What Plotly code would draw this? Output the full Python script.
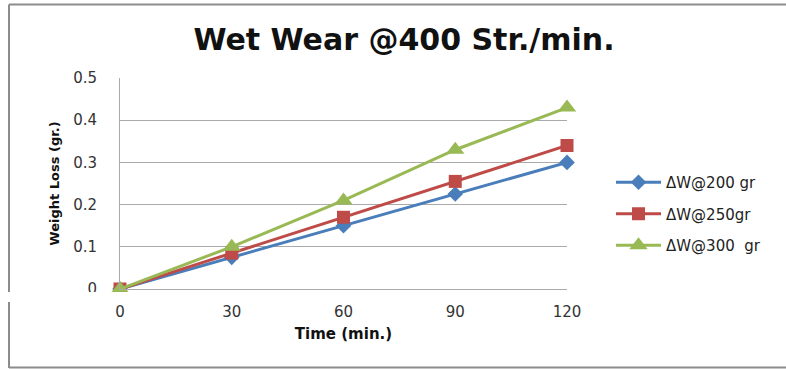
import plotly.graph_objects as go

# Wear test results: weight loss vs. time at 400 strokes/min
time_min = [0, 30, 60, 90, 120]
loss_200 = [0, 0.075, 0.15, 0.225, 0.30]
loss_250 = [0, 0.085, 0.17, 0.255, 0.34]
loss_300 = [0, 0.10, 0.21, 0.33, 0.43]

series_names = ["ΔW@200 gr", "ΔW@250gr", "ΔW@300  gr"]
y_ticks = [0, 0.1, 0.2, 0.3, 0.4, 0.5]
y_tick_text = ["0", "0.1", "0.2", "0.3", "0.4", "0.5"]

W, H = 786, 369
L, R, T, B = 120, 567, 78, 289  # plot area in pixels

def px(x):
    return (x - L) / (R - L)

def py(y):
    return (B - y) / (B - T)

FONT = "DejaVu Sans"
colors = ["#4A7EBB", "#BE4B48", "#98B954"]
symbols = ["diamond", "square", "triangle-up"]
sizes = [12, 13, 16]

fig = go.Figure()
for i, (name, vals) in enumerate(zip(series_names, [loss_200, loss_250, loss_300])):
    fig.add_trace(go.Scatter(
        x=time_min, y=vals, name=name, mode="lines+markers",
        line=dict(color=colors[i], width=3),
        marker=dict(symbol=symbols[i], size=sizes[i], color=colors[i]),
        cliponaxis=False, legendgroup=str(i),
    ))

grid = "#AAAAAA"
fig.update_layout(
    width=W, height=H,
    margin=dict(l=L, r=W - R, t=T, b=H - B, pad=0),
    paper_bgcolor="white", plot_bgcolor="white",
    font=dict(family=FONT, color="#222222"),
    title=dict(text="<b>Wet Wear @400 Str./min.</b>", x=px(404), xref="paper", xanchor="center",
               y=1 - 39 / H, yanchor="middle", font=dict(size=30, color="#111111", family=FONT)),
    showlegend=True,
    legend=dict(x=px(611), y=py(214), xanchor="left", yanchor="middle",
                font=dict(size=15, family=FONT, color="#222222"),
                tracegroupgap=9, itemwidth=45, bgcolor="rgba(0,0,0,0)"),
    xaxis=dict(range=[0, 120], tickvals=time_min, ticktext=[str(t) for t in time_min],
               showgrid=False, zeroline=False, showline=True, linecolor=grid, linewidth=1,
               ticks="", ticklabelstandoff=9,
               tickfont=dict(size=15, family=FONT, color="#333333"),
               title=dict(text="<b>Time (min.)</b>", standoff=8,
                          font=dict(size=15, family=FONT, color="#111111"))),
    yaxis=dict(range=[0, 0.5], tickvals=y_ticks, ticktext=y_tick_text,
               showgrid=True, gridcolor=grid, gridwidth=1, zeroline=False,
               showline=True, linecolor=grid, linewidth=1, ticks="",
               ticklabelstandoff=19,
               tickfont=dict(size=15, family=FONT, color="#333333"),
               title=dict(text="<b>Weight Loss (gr.)</b>", standoff=10,
                          font=dict(size=13, family=FONT, color="#111111"))),
)

# outer frame lines
frame = "#8C8C8C"
fig.add_shape(type="line", xref="paper", yref="paper", x0=px(9), x1=px(W + 5), y0=py(4.5), y1=py(4.5),
              line=dict(color=frame, width=2), layer="above")
fig.add_shape(type="line", xref="paper", yref="paper", x0=px(9), x1=px(9), y0=py(4.5), y1=py(368),
              line=dict(color=frame, width=2), layer="above")
fig.add_shape(type="line", xref="paper", yref="paper", x0=px(9), x1=px(W + 5), y0=py(367.5), y1=py(367.5),
              line=dict(color=frame, width=2), layer="above")
# blank band across the figure
fig.add_shape(type="rect", xref="paper", yref="paper", x0=px(-5), x1=px(W + 5), y0=py(292), y1=py(302),
              fillcolor="white", line=dict(width=0), layer="above")

fig.write_html("out.html")
